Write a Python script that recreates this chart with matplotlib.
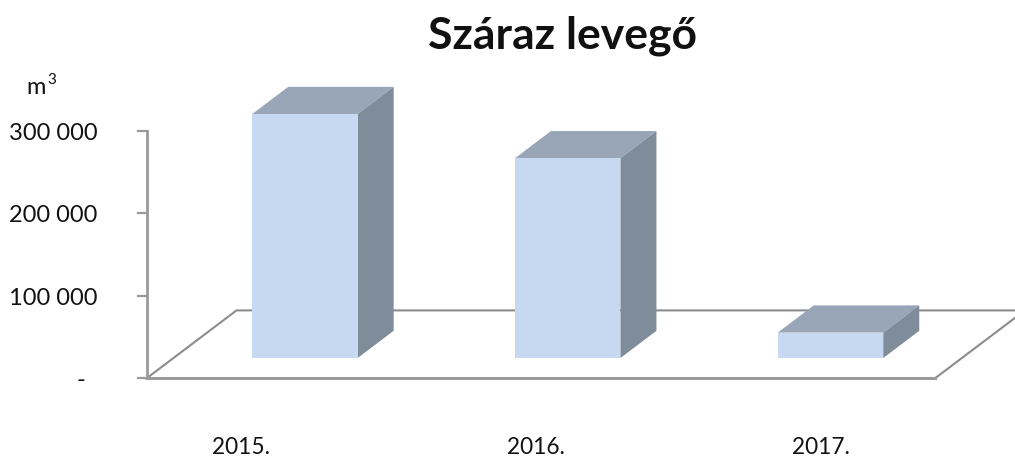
#!/usr/bin/python3

import matplotlib.pyplot as plt
from matplotlib.patches import Polygon

plt.rcParams["font.family"] = ["Lato", "DejaVu Sans"]

years = ["2015.", "2016.", "2017."]
values = [295500, 242000, 30800]
y_ticks = [0, 100000, 200000, 300000]
y_tick_labels = ["-", "100 000", "200 000", "300 000"]

WIDTH, HEIGHT = 1015, 457
X_SCALE = 262.8  # px per category
Y_SCALE = 82.55 / 100000  # px per m3
X0_PX, Y0_PX = 146.5, 378.4  # left front floor corner

# floor depth as seen on screen, in data units
FLOOR_DX = 90 / X_SCALE
FLOOR_DY = 68 / Y_SCALE
BAR_WIDTH = 105.5 / X_SCALE
BAR_START = 0.3  # where the bar front sits on the floor depth
BAR_DEPTH = 0.4  # bar depth as a share of the floor depth

# the year labels are not centred under their categories in the reference
LABEL_SHIFT_PX = [-37, -4.5, 17.5]

FRONT = "#c6d9f1"
TOP = "#98a6b8"
SIDE = "#7f8c99"
AXIS = "#9a9a9a"
FLOOR = "#8c8c8c"
TEXT = "#111111"

fig = plt.figure(figsize=(WIDTH / 100, HEIGHT / 100), dpi=100)
ax = fig.add_axes([0, 0, 1, 1])
ax.set_xlim(-0.5 - X0_PX / X_SCALE, -0.5 + (WIDTH - X0_PX) / X_SCALE)
ax.set_ylim(-(HEIGHT - Y0_PX) / Y_SCALE, Y0_PX / Y_SCALE)
ax.axis("off")

# floor
left, right = -0.5, len(years) - 0.5
ax.plot(
    [left, left + FLOOR_DX, right + FLOOR_DX, right, left],
    [0, FLOOR_DY, FLOOR_DY, 0, 0],
    color=FLOOR, lw=1.5, solid_joinstyle="miter", zorder=1,
)
ax.plot([left, right], [0, 0], color=AXIS, lw=2.2, zorder=1)

# value axis
ax.plot([left, left], [0, y_ticks[-1]], color=AXIS, lw=2, zorder=1)
tick_len = 8.5 / X_SCALE
for tick, label in zip(y_ticks, y_tick_labels):
    ax.plot([left - tick_len, left], [tick, tick], color=AXIS, lw=1.6, zorder=1)
    label_x = left - (61 if tick == 0 else 49) / X_SCALE
    ax.text(label_x, tick - 2.5 / Y_SCALE, label, ha="right", va="center",
            fontsize=17, color=TEXT)

# bars
dx = FLOOR_DX * BAR_DEPTH
dy = FLOOR_DY * BAR_DEPTH
for i, (year, value) in enumerate(zip(years, values)):
    x0 = i - BAR_WIDTH / 2 + FLOOR_DX * BAR_START
    x1 = x0 + BAR_WIDTH
    y0 = FLOOR_DY * BAR_START
    y1 = y0 + value
    ax.add_patch(Polygon([(x0, y0), (x1, y0), (x1, y1), (x0, y1)],
                         facecolor=FRONT, edgecolor="none", zorder=3))
    ax.add_patch(Polygon([(x0, y1), (x1, y1), (x1 + dx, y1 + dy), (x0 + dx, y1 + dy)],
                         facecolor=TOP, edgecolor="none", zorder=2))
    ax.add_patch(Polygon([(x1, y0), (x1 + dx, y0 + dy), (x1 + dx, y1 + dy), (x1, y1)],
                         facecolor=SIDE, edgecolor="none", zorder=2))
    ax.text(i + LABEL_SHIFT_PX[i] / X_SCALE, -69 / Y_SCALE, year, ha="center", va="center",
            fontsize=16.3, color=TEXT)

ax.text(563 / WIDTH, 1 - 36 / HEIGHT, "Száraz levegő", transform=ax.transAxes,
        ha="center", va="center", fontsize=32, fontweight="bold", color=TEXT)
ax.text(26 / WIDTH, 1 - 87 / HEIGHT, "m", transform=ax.transAxes,
        ha="left", va="center", fontsize=17, color=TEXT)
ax.text(47 / WIDTH, 1 - 80 / HEIGHT, "3", transform=ax.transAxes,
        ha="left", va="center", fontsize=11, color=TEXT)

fig.savefig("out.png", dpi=100)
